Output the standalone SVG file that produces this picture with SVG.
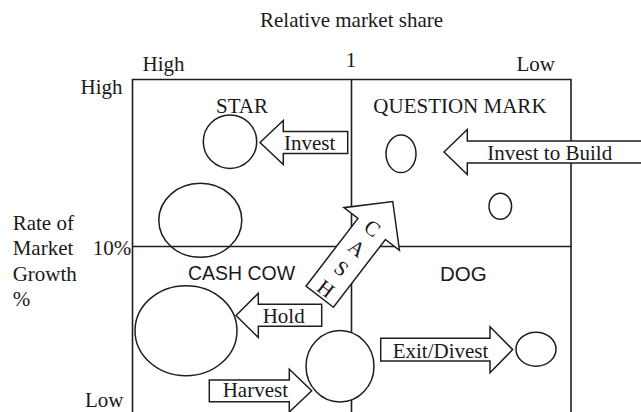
<svg xmlns="http://www.w3.org/2000/svg" width="641" height="412" viewBox="0 0 641 412">
  <style>
    .serif { font-family: "Liberation Serif", "Times New Roman", serif; font-size: 21px; fill: #1a1a1a; }
    .sans { font-family: "Liberation Sans", Arial, sans-serif; font-size: 20.5px; fill: #1a1a1a; }
    .grid { fill: none; stroke: #1e1e1e; stroke-width: 1.6; }
    .bubble { fill: #fff; stroke: #1e1e1e; stroke-width: 1.5; }
    .bubble-open { fill: none; stroke: #1e1e1e; stroke-width: 1.5; }
    .block { fill: #fff; stroke: #1e1e1e; stroke-width: 1.5; stroke-linejoin: miter; }
  </style>

  <rect width="641" height="412" fill="#fff"/>

  <!-- axis labels -->
  <g id="axes">
    <text class="serif" x="260" y="27">Relative market share</text>
    <text class="serif" x="351" y="67" text-anchor="middle">1</text>
    <text class="serif" x="142.5" y="71">High</text>
    <text class="serif" x="516.5" y="71">Low</text>
    <text class="serif" x="80.5" y="93.5">High</text>
    <text class="serif" x="12.7" y="229.5">Rate of</text>
    <text class="serif" x="12.7" y="255">Market</text>
    <text class="serif" x="12.7" y="280.5">Growth</text>
    <text class="serif" x="12.7" y="306">%</text>
    <text class="serif" x="92.7" y="255">10%</text>
    <text class="serif" x="85" y="406.5">Low</text>
  </g>

  <!-- quadrant grid -->
  <g id="grid">
    <path class="grid" d="M132.5,412 V79.5 H351.5 V412"/>
    <path class="grid" d="M351.5,79.5 H571 V412"/>
    <path class="grid" d="M132.5,246.5 H571"/>
  </g>

  <g id="star">
    <text class="serif" x="216" y="113.3">STAR</text>
    <circle class="bubble-open" cx="230" cy="141.7" r="26.7"/>
    <ellipse class="bubble-open" cx="200.3" cy="220.3" rx="41.5" ry="37"/>
  </g>

  <g id="question-mark">
    <text class="serif" x="373.3" y="113.3">QUESTION MARK</text>
    <ellipse class="bubble" cx="401" cy="153.8" rx="15" ry="18.8"/>
    <ellipse class="bubble" cx="500.3" cy="206.3" rx="11.3" ry="13"/>
  </g>

  <g id="cash-cow">
    <text class="sans" x="188" y="280" textLength="107" lengthAdjust="spacingAndGlyphs">CASH COW</text>
    <ellipse class="bubble" cx="186" cy="330.7" rx="51" ry="45"/>
    <ellipse class="bubble" cx="340" cy="366.3" rx="34" ry="35.7"/>
  </g>

  <g id="dog">
    <text class="sans" x="440" y="280.7">DOG</text>
    <ellipse class="bubble" cx="536" cy="349.2" rx="20" ry="17"/>
  </g>

  <!-- block arrows -->
  <g id="connectors">
    <g id="invest">
      <polygon class="block" points="260,142.5 283.3,120.5 283.3,131.5 347.7,131.5 347.7,153.5 283.3,153.5 283.3,164.5"/>
      <text class="serif" x="284" y="150">Invest</text>
    </g>
    <g id="invest-to-build">
      <polygon class="block" points="444,152 467.3,129.5 467.3,141 646,141 646,163 467.3,163 467.3,174.5"/>
      <text class="serif" x="487.3" y="160">Invest to Build</text>
    </g>
    <g id="hold">
      <polygon class="block" points="236,315.5 258.3,293.3 258.3,304.3 321.7,304.3 321.7,326.2 258.3,326.2 258.3,337.5"/>
      <text class="serif" x="262.7" y="323.3">Hold</text>
    </g>
    <g id="harvest">
      <polygon class="block" points="209.3,380 289.3,380 289.3,369.3 311.7,390.7 289.3,412 289.3,401.7 209.3,401.7"/>
      <text class="serif" x="222.7" y="397.3">Harvest</text>
    </g>
    <g id="exit-divest">
      <polygon class="block" points="380.7,338.3 490,338.3 490,326.7 512.7,349.6 490,372.7 490,361 380.7,361"/>
      <text class="serif" x="392.7" y="357.7">Exit/Divest</text>
    </g>
    <g id="cash">
      <polygon class="block" transform="translate(319.7,296.7) rotate(-52.5)" points="0,-17.3 85.4,-17.3 85.4,-35 120,0 85.4,35 85.4,17.3 0,17.3"/>
      <text class="serif" text-anchor="middle" y="7" transform="translate(372.4,228.1) rotate(37.5)">C</text>
      <text class="serif" text-anchor="middle" y="7" transform="translate(356.8,248.3) rotate(37.5)">A</text>
      <text class="serif" text-anchor="middle" y="7" transform="translate(341.3,268.5) rotate(37.5)">S</text>
      <text class="serif" text-anchor="middle" y="7" transform="translate(325.8,288.8) rotate(37.5)">H</text>
    </g>
  </g>
</svg>
